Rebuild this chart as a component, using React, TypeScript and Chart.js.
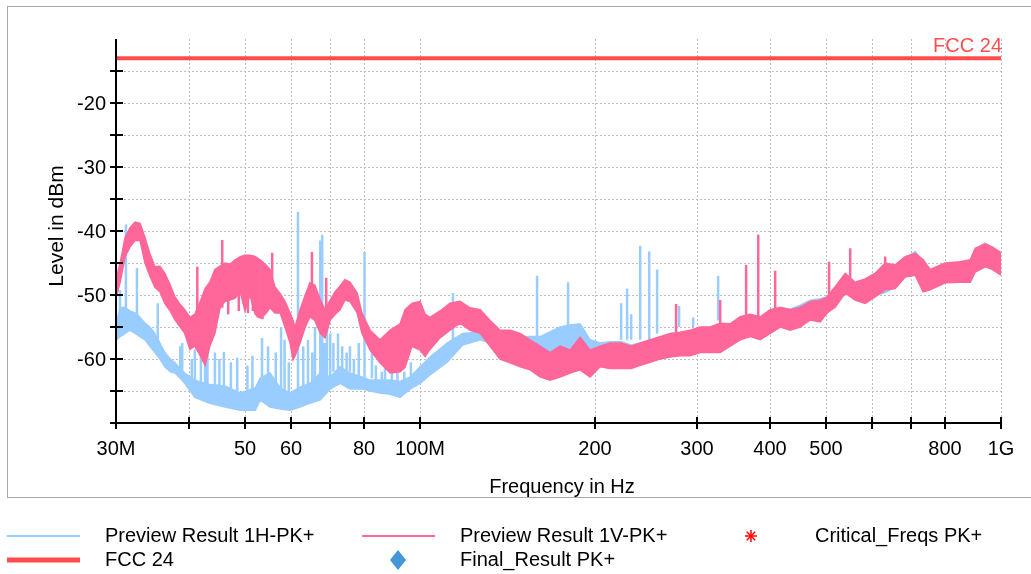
import { useEffect, useRef } from "react";
import { Chart, registerables } from "chart.js";

Chart.register(...registerables);

// ---------------- data ----------------
// Preview Result 1V-PK+ (pink) envelope: frequency (MHz), upper / lower level (dBm)
const vFreq = [30, 30.5, 31.1, 31.7, 32.35, 33, 33.65, 34.3, 35, 35.7, 36.4, 37.2, 37.9, 38.7, 39.4, 40.2, 41, 41.9, 42.7, 43.5, 44.4, 45.3, 46.2, 47.1, 48.1, 49.1, 50, 51, 52.1, 53.1, 54.2, 55.2, 56.3, 57.5, 58.6, 59.8, 60.5, 61, 62.2, 63.5, 64.7, 66, 67.4, 68.7, 70.1, 71.5, 72.9, 74.3, 75.8, 78, 79.5, 82.1, 85.4, 88.9, 92.5, 94.3, 96.9, 100.1, 102.1, 104.1, 108.3, 112.7, 117.3, 122, 127, 132.1, 137.4, 143, 148.8, 154.8, 161, 167.5, 174.3, 181.4, 188.7, 196.3, 204.3, 212.5, 222, 231, 239.4, 249, 259, 269.6, 280.4, 291.8, 303.6, 315.9, 328.7, 342, 355.8, 370.2, 385.2, 400.8, 417, 433.8, 451.3, 469.6, 488.5, 502, 518.4, 539.5, 561, 583.8, 607.4, 632, 657.6, 684.1, 711.8, 734.7, 755.3, 801.7, 850.9, 885.3, 903, 939.4, 965.8, 1000];
const vHigh = [-47.5, -45, -41, -39.5, -38.6, -38.8, -41, -43.5, -45.6, -45.5, -46.6, -48.5, -50.3, -51.5, -52.3, -53.5, -53, -51, -49, -48, -46, -45.5, -45, -45.2, -44.5, -44, -43.8, -43.8, -44, -44.5, -45.2, -46, -48.7, -49.8, -51, -52.8, -54, -55, -52.3, -50, -48.1, -48.5, -50.8, -52.3, -50.8, -49.5, -48.6, -47.6, -48, -49.7, -52.8, -55.5, -57, -55.5, -54.5, -52.3, -51.3, -51, -53, -53.5, -52.5, -51.3, -51, -52, -52.3, -54, -55.5, -55.5, -56, -57, -58, -59, -58, -58.6, -56.6, -58.6, -58, -57.5, -57.5, -58, -57.5, -57, -56.5, -56, -55.8, -55.5, -55, -55, -54.4, -54.5, -53.4, -53, -53.4, -52.3, -51.9, -52.3, -51.9, -51, -50.8, -50.3, -48.7, -46.6, -48, -47.5, -46.6, -45, -45.3, -44, -43.5, -44.5, -46, -45, -44.8, -44.5, -42.7, -42, -42.5, -43.4];
const vLow = [-50.5, -48, -44, -42.5, -41.5, -41.5, -45, -47, -48.8, -49.5, -51.3, -52.5, -53.9, -55, -56, -58.5, -58, -59.5, -61, -58, -56, -52, -51, -50.8, -50.5, -49.5, -52.5, -50, -53, -53.6, -53, -52, -52.8, -52.8, -55, -57.5, -60.1, -59.5, -57.5, -55, -53.4, -54, -56, -56.7, -53.9, -53, -52.3, -50.8, -51, -52.8, -56, -58.6, -60.6, -62.2, -62, -61.3, -58, -58.6, -59.6, -58.5, -56.7, -55.5, -54.4, -55.5, -56, -58, -60, -60.6, -61.2, -61.7, -62.8, -63.3, -62.8, -62.2, -61.7, -62.8, -61.2, -61.5, -61.5, -61.5, -61, -60.5, -60, -59.7, -59.5, -59.5, -59, -59, -59, -58, -57, -56.5, -57, -56, -55, -55.5, -55, -53.9, -54.2, -52.8, -51.9, -49.7, -50.8, -51.3, -50.3, -49.2, -49, -47.2, -46.9, -49.5, -49.2, -48.1, -48, -48, -46.4, -45.6, -46, -46.9];

// Preview Result 1H-PK+ (light blue) envelope
const hFreq = [30, 30.5, 31.1, 31.7, 32.35, 33, 33.65, 34.3, 35, 35.7, 36.4, 37.2, 37.9, 38.7, 39.4, 41, 43.5, 46.2, 49.1, 52.1, 53.1, 55.2, 57.5, 59.8, 62.2, 64.7, 67.4, 70.1, 72.9, 75.8, 79.5, 82.1, 85.4, 88.9, 92.5, 96.2, 100.1, 104.1, 111.4, 118.5, 127, 132.1, 137.4, 148.8, 161, 174.3, 181.4, 188.7, 196.3, 204.3, 212.5, 222, 231, 239.4, 249, 259, 269.6, 280.4, 291.8, 303.6, 315.9, 328.7, 342, 355.8, 370.2, 385.2, 400.8, 417, 433.8, 451.3, 469.6, 488.5, 502, 518.4, 539.5, 561, 583.8, 607.4, 632, 657.6, 684.1, 711.8, 734.7, 755.3, 801.7, 850.9, 885.3, 903, 939.4, 965.8, 1000];
const hHigh = [-54.5, -52, -51.9, -52.5, -52.8, -53.5, -54.4, -55, -56, -57.5, -59, -60, -60.6, -61.5, -62.2, -63.3, -64, -64.2, -65.3, -64.5, -63, -62.2, -64.5, -65.3, -64.4, -63.8, -62.2, -62.8, -61.2, -62.2, -62.8, -63.3, -63.3, -63.3, -63.5, -62.8, -61.2, -59.7, -57.5, -56, -55.8, -56, -56, -56.5, -56.5, -55, -54.7, -54.5, -57, -57.5, -57.3, -57.3, -57.8, -57.5, -57.2, -56.8, -56.3, -56, -55.8, -55.3, -55.2, -55, -54.6, -53.8, -53.2, -53.6, -52.6, -52, -52.2, -51.6, -50.8, -50.6, -50.3, -49, -46.9, -48.2, -47.7, -46.8, -45.2, -45.5, -44.3, -43.2, -44.8, -46.2, -45.2, -45, -44.7, -42.9, -41.9, -42.7, -43.6];
const hLow = [-57, -56.5, -56, -55.5, -56, -56.5, -57, -58, -59, -60, -61.2, -62, -62.2, -63, -63.8, -66, -66.9, -67.5, -68, -68, -66.4, -67.5, -67.8, -68, -67.5, -66.9, -66.4, -64.7, -63.8, -64.7, -64.7, -65, -65.3, -65.5, -66, -64.7, -63.8, -62.5, -60.5, -57.8, -57, -57.5, -58.5, -59, -59.5, -59, -58.5, -58.5, -61, -61, -61.3, -61.3, -61.3, -60.8, -60.3, -59.8, -59.5, -59.3, -59.3, -58.8, -58.8, -58.8, -57.8, -56.8, -56.3, -56.8, -55.8, -54.8, -55.3, -54.8, -53.7, -54, -52.6, -51.7, -49.5, -50.6, -51.1, -50.1, -49.6, -48.8, -47, -46.7, -49.3, -49, -47.9, -47.8, -47.8, -46.2, -45.4, -45.8, -46.7];

// narrow emissions (spikes): frequency, foot level, tip level
const hSpikeFreq = [30.48, 31.2, 32.6, 35.4, 38.7, 39, 40.5, 41, 42, 42.7, 43.1, 44.4, 45.2, 46, 47.3, 48.5, 50.5, 51.5, 53.5, 54.8, 56.5, 57.7, 58.5, 59.5, 61.7, 63, 64.2, 65.3, 66, 67.4, 67.9, 68.5, 69.2, 70.1, 71, 72.3, 73.5, 74.8, 75.8, 77, 78.5, 80.3, 82.7, 84, 86, 87.1, 89.5, 91.5, 94, 96.5, 114, 159.1, 179.9, 222, 227.3, 231, 239.4, 248.1, 256, 279.3, 295.3, 326];
const hSpikeFoot = [-55, -55, -55, -58, -62, -62, -63, -64, -64.5, -64.5, -64.5, -64.5, -65, -65, -65, -65, -65, -65, -64, -63, -64, -65, -65, -65, -65, -65, -64, -64, -64, -63, -63, -63, -63, -63, -62, -62, -62, -62, -62, -63, -63, -63, -63, -64, -64, -64, -64, -64, -64, -63, -57, -57, -56, -57, -57, -57, -57, -57, -56, -55, -55, -54];
const hSpikeTip = [-49.2, -39, -45.8, -51.3, -58, -57.5, -60, -58.5, -59, -57.5, -59, -59, -60, -58.9, -60.5, -59.8, -61, -59.5, -56.7, -58, -59, -55, -57, -60.5, -37, -58, -57, -59, -55, -41.5, -40.6, -57.5, -55, -56, -57.5, -56, -58, -59, -58, -60, -57.5, -43.3, -57, -61, -62, -60, -61.5, -61, -62, -60.5, -49.7, -47, -48, -51.3, -49, -53, -42.3, -43.2, -46, -51.7, -53.5, -47];

const vSpikeFreq = [41.4, 45.7, 46.8, 48.8, 50.6, 51.6, 52.6, 53.6, 55.7, 65.2, 69, 276, 328.7, 364.3, 382.2, 408.7, 506, 550.2, 632];
const vSpikeFoot = [-55, -52, -45, -44.2, -43.8, -43.8, -44.2, -44.8, -50, -50, -53, -57, -56, -55, -55, -54, -52, -49, -47];
const vSpikeTip = [-45.6, -41.4, -53, -52.5, -52.8, -52.5, -53.5, -53.8, -43.4, -43.3, -47.3, -51.4, -50.8, -45.3, -40.6, -46.2, -44.8, -42.7, -44];

// limit line
const limitFreq = [30, 1000];
const limitLevel = [-13, -13];
const limitName = "FCC 24";

// axes
const xMin = 30;
const xMax = 1000;
const yMin = -70;
const yMax = -10;
const xTickValues = [30, 40, 50, 60, 70, 80, 100, 200, 300, 400, 500, 600, 700, 800, 1000];
const xTickLabels = ["30M", "", "50", "60", "", "80", "100M", "200", "300", "400", "500", "", "", "800", "1G"];
const yTickValues = [-70, -65, -60, -55, -50, -45, -40, -35, -30, -25, -20, -15];
const yTickLabels = ["", "", "-60", "", "-50", "", "-40", "", "-30", "", "-20", ""];
const yGridValues = [-65, -60, -55, -50, -45, -40, -35, -30, -25, -20, -15];
const xTitle = "Frequency in Hz";
const yTitle = "Level in dBm";

const legendItems = [
  "Preview Result 1H-PK+",
  "Preview Result 1V-PK+",
  "Critical_Freqs PK+",
  "FCC 24",
  "Final_Result PK+",
];

// ---------------- styles ----------------
const BLUE = "#99ccff";
const PINK = "#ff6699";
const RED = "#ff4d4d";
const FONT = "'Liberation Sans', Arial, sans-serif";

const pts = (f: number[], v: number[]) => f.map((x, i) => ({ x, y: v[i] }));
const spikePts = (f: number[], a: number[], b: number[]) =>
  f.flatMap((x, i) => [
    { x, y: a[i] },
    { x, y: b[i] },
    { x, y: null as any },
  ]);

const decorPlugin = {
  id: "decor",
  beforeDraw(chart: any) {
    const ctx = chart.ctx;
    ctx.save();
    ctx.fillStyle = "#ffffff";
    ctx.fillRect(0, 0, chart.width, chart.height);
    ctx.strokeStyle = "#a8a8a8";
    ctx.lineWidth = 1;
    ctx.strokeRect(7.5, 6.5, 1040, 491);
    ctx.restore();
  },
  beforeDatasetsDraw(chart: any) {
    const ctx = chart.ctx;
    const xs = chart.scales.x;
    const ys = chart.scales.y;
    const { left, right, top, bottom } = chart.chartArea;
    ctx.save();
    ctx.strokeStyle = "#bdbdbd";
    ctx.lineWidth = 1;
    ctx.setLineDash([2, 2]);
    yGridValues.forEach((v) => {
      const py = Math.round(ys.getPixelForValue(v)) + 0.5;
      ctx.beginPath();
      ctx.moveTo(left, py);
      ctx.lineTo(right, py);
      ctx.stroke();
    });
    xTickValues.forEach((v) => {
      if (v === xMin) return;
      const px = Math.round(xs.getPixelForValue(v)) + 0.5;
      ctx.beginPath();
      ctx.moveTo(px, top);
      ctx.lineTo(px, bottom);
      ctx.stroke();
    });
    ctx.restore();
  },
  afterDraw(chart: any) {
    const ctx = chart.ctx;
    const xs = chart.scales.x;
    const ys = chart.scales.y;
    const { left, right, top, bottom } = chart.chartArea;
    ctx.save();
    // axes
    ctx.strokeStyle = "#000";
    ctx.lineWidth = 2;
    ctx.beginPath();
    ctx.moveTo(left, top);
    ctx.lineTo(left, bottom);
    ctx.lineTo(right, bottom);
    ctx.stroke();
    ctx.font = `20px ${FONT}`;
    ctx.fillStyle = "#000";
    yTickValues.forEach((v, i) => {
      const py = Math.round(ys.getPixelForValue(v));
      ctx.beginPath();
      ctx.moveTo(left - 6, py);
      ctx.lineTo(left + 7, py);
      ctx.stroke();
      if (yTickLabels[i]) {
        ctx.textAlign = "right";
        ctx.textBaseline = "middle";
        ctx.fillText(yTickLabels[i], left - 10, py + 1);
      }
    });
    xTickValues.forEach((v, i) => {
      const px = Math.round(xs.getPixelForValue(v));
      ctx.beginPath();
      ctx.moveTo(px, bottom - 6);
      ctx.lineTo(px, bottom + 6);
      ctx.stroke();
      if (xTickLabels[i]) {
        ctx.textAlign = "center";
        ctx.textBaseline = "middle";
        ctx.fillText(xTickLabels[i], px, bottom + 26);
      }
    });
    // titles
    ctx.textAlign = "center";
    ctx.textBaseline = "middle";
    ctx.fillText(xTitle, 562, 487);
    ctx.save();
    ctx.font = `21px ${FONT}`;
    ctx.translate(57, 226);
    ctx.rotate(-Math.PI / 2);
    ctx.fillText(yTitle, 0, 0);
    ctx.restore();
    // limit label
    ctx.fillStyle = RED;
    ctx.textAlign = "right";
    ctx.textBaseline = "alphabetic";
    ctx.fillText(limitName, right + 1, ys.getPixelForValue(limitLevel[1]) - 6);

    // legend
    ctx.fillStyle = "#000";
    ctx.textAlign = "left";
    ctx.textBaseline = "middle";
    const r1 = 536;
    const r2 = 560;
    ctx.lineWidth = 2;
    ctx.strokeStyle = BLUE;
    ctx.beginPath();
    ctx.moveTo(7, r1);
    ctx.lineTo(80, r1);
    ctx.stroke();
    ctx.fillText(legendItems[0], 105, r1);
    ctx.strokeStyle = PINK;
    ctx.beginPath();
    ctx.moveTo(362, r1);
    ctx.lineTo(435, r1);
    ctx.stroke();
    ctx.fillText(legendItems[1], 460, r1);
    // asterisk
    ctx.strokeStyle = "#ff0000";
    ctx.lineWidth = 1.5;
    const ax = 751;
    const ay = r1;
    for (let k = 0; k < 4; k++) {
      const a = (k * Math.PI) / 4;
      ctx.beginPath();
      ctx.moveTo(ax - 6 * Math.sin(a), ay - 6 * Math.cos(a));
      ctx.lineTo(ax + 6 * Math.sin(a), ay + 6 * Math.cos(a));
      ctx.stroke();
    }
    ctx.fillText(legendItems[2], 815, r1);
    ctx.strokeStyle = RED;
    ctx.lineWidth = 5;
    ctx.beginPath();
    ctx.moveTo(7, r2);
    ctx.lineTo(80, r2);
    ctx.stroke();
    ctx.fillText(legendItems[3], 105, r2);
    ctx.fillStyle = "#4396d8";
    ctx.beginPath();
    ctx.moveTo(398, r2 - 10);
    ctx.lineTo(406, r2);
    ctx.lineTo(398, r2 + 10);
    ctx.lineTo(390, r2);
    ctx.closePath();
    ctx.fill();
    ctx.fillStyle = "#000";
    ctx.fillText(legendItems[4], 460, r2);
    ctx.restore();
  },
};

export default function App() {
  const ref = useRef<HTMLCanvasElement | null>(null);
  useEffect(() => {
    if (!ref.current) return;
    const chart = new Chart(ref.current, {
      type: "line",
      data: {
        datasets: [
          { data: pts(limitFreq, limitLevel), borderColor: RED, borderWidth: 4, order: 0 },
          { data: spikePts(vSpikeFreq, vSpikeFoot, vSpikeTip), borderColor: PINK, borderWidth: 2.5, spanGaps: false, order: 1 },
          { data: pts(vFreq, vHigh), borderColor: PINK, backgroundColor: PINK, borderWidth: 1.5, fill: 3, order: 2 },
          { data: pts(vFreq, vLow), borderColor: PINK, borderWidth: 1.5, order: 3 },
          { data: spikePts(hSpikeFreq, hSpikeFoot, hSpikeTip), borderColor: BLUE, borderWidth: 2.5, spanGaps: false, order: 4 },
          { data: pts(hFreq, hHigh), borderColor: BLUE, backgroundColor: BLUE, borderWidth: 1.5, fill: 6, order: 5 },
          { data: pts(hFreq, hLow), borderColor: BLUE, borderWidth: 1.5, order: 6 },
        ] as any,
      },
      options: {
        responsive: false,
        animation: false,
        layout: { padding: { left: 116, top: 39, right: 30, bottom: 151 } },
        scales: {
          x: { type: "logarithmic", min: xMin, max: xMax, display: false },
          y: { type: "linear", min: yMin, max: yMax, display: false },
        },
        elements: { point: { radius: 0 }, line: { tension: 0 } },
        plugins: { legend: { display: false }, tooltip: { enabled: false } },
      } as any,
      plugins: [decorPlugin],
    });
    return () => chart.destroy();
  }, []);
  return (
    <div style={{ position: "fixed", left: 0, top: 0, width: 1031, height: 574, background: "#fff" }}>
      <canvas ref={ref} width={1031} height={574} style={{ display: "block" }} />
    </div>
  );
}
